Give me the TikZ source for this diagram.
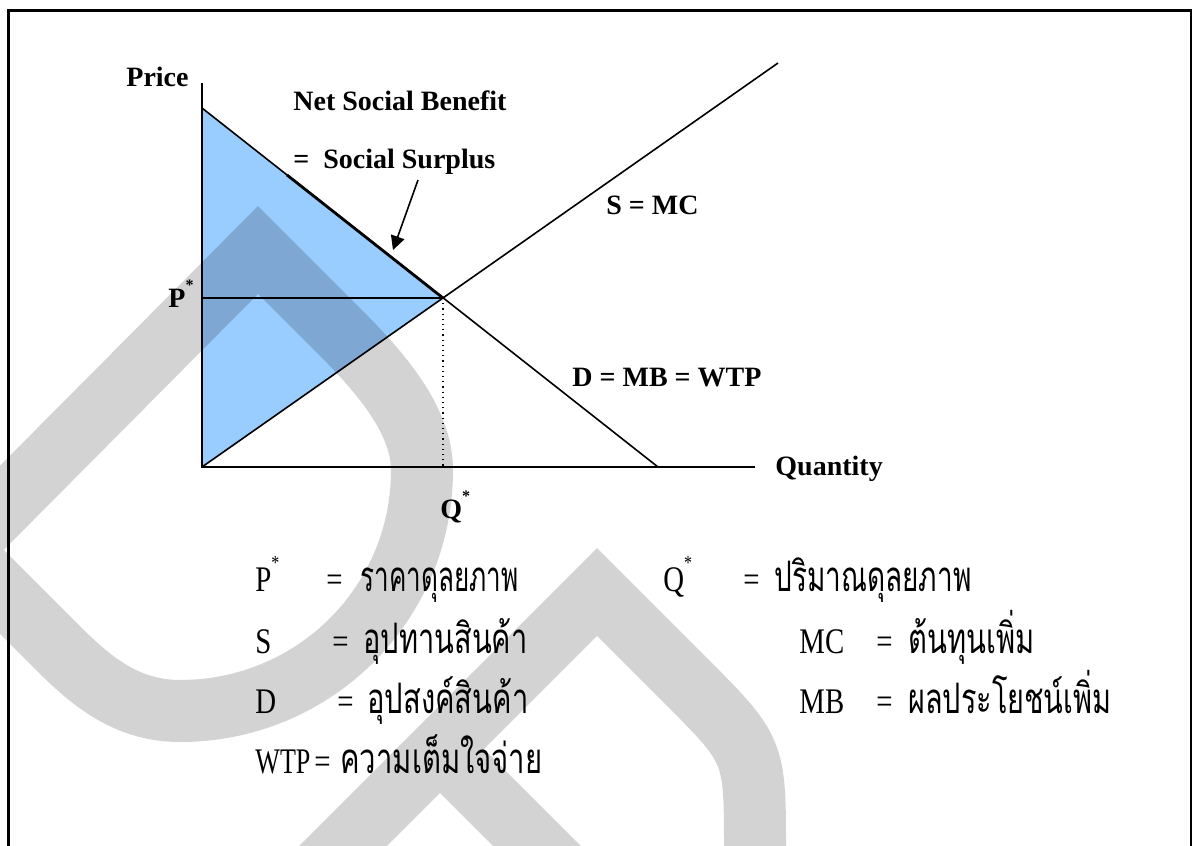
\documentclass[tikz,border=0pt]{standalone}
\usepackage{fontspec}
\setmainfont{Liberation Serif}
\newfontfamily\thaifont[Script=Thai]{Loma}
\usetikzlibrary{arrows.meta}
\definecolor{bluefill}{HTML}{99CCFF}
\definecolor{wmgray}{HTML}{D3D3D3}
\newcommand\thw[2]{\resizebox{#1}{\height}{\thaifont\fontsize{21}{25}\selectfont #2}}
\newcommand\lgt[1]{\scalebox{0.8}[1]{\fontsize{18}{21}\selectfont #1}}
\newcommand\stsup{\raisebox{0.6em}{\fontsize{8}{8}\selectfont *}}
\newcommand\lgsup{\raisebox{0.6em}{\fontsize{10}{10}\selectfont *}}
\begin{document}
\begin{tikzpicture}[x=0.5pt,y=-0.5pt,
  lbl/.style={font=\fontsize{14}{17}\selectfont\bfseries, inner sep=0, anchor=base west},
  lg/.style={inner sep=0, anchor=base west},
  wm/.style={draw=wmgray, line width=31pt, line join=miter, blend mode=multiply},
  curve/.style={line width=0.8pt},
  axis/.style={line width=1pt}]
\useasboundingbox (0,0) rectangle (1200,846);
\fill[white] (0,0) rectangle (1200,846);
% key points
\coordinate (O) at (202,467);
\coordinate (Ytop) at (202,83);
\coordinate (Xend) at (755,467);
\coordinate (Dtop) at (202,108);
\coordinate (Dmid) at (287,175);
\coordinate (Dend) at (658,467);
\coordinate (Send) at (778,63);
\coordinate (E) at (443,298);
\coordinate (Pax) at (202,298);
\coordinate (Qax) at (443,467);
\coordinate (a1) at (418,180);
\coordinate (a2) at (393,250);
\begin{scope}
\clip (0,0) rectangle (1200,846);
\fill[bluefill] (Dtop) -- (E) -- (O) -- cycle;
\draw[wm] (-40,550) -- (258,250) -- (340,332) .. controls (380,372) and (422,420) .. (422,470)
    .. controls (422,604) and (314,711) .. (180,711) .. controls (130,711) and (95,685) .. (60,650) -- cycle
  (300,889) -- (597,592) -- (684,679) .. controls (755,750) .. (755,850) -- (755,900)
  (440,749) -- (600,909);
\end{scope}
% frame
\draw[line width=1.2pt] (8.5,846) -- (8.5,10.5) -- (1191,10.5) -- (1191,846);
% graph
\draw[axis] (Ytop) -- (O) -- (Xend);
\draw[curve] (Dtop) -- (Dend);
\draw[line width=1.4pt] (Dmid) -- (E);
\draw[curve] (O) -- (Send);
\draw[curve] (Pax) -- (E);
\draw[dotted, line width=0.6pt] (E) -- (Qax);
\draw[-{Triangle[length=7pt,width=7pt]}, line width=0.8pt] (a1) -- (a2);
% graph labels
\node[lbl] (price) at (126,86) {Price};
\node[lbl] (nsb) at (293,110) {Net Social Benefit};
\node[lbl] (ss) at (293,168) {=~~Social Surplus};
\node[lbl] (smc) at (606,214) {S = MC};
\node[lbl] (dmb) at (572,386) {D = MB = WTP};
\node[lbl] (qty) at (775,475) {Quantity};
\node[lbl] (pst) at (168,307) {P\stsup};
\node[lbl] (qst) at (440,518) {Q\stsup};
% legend
\node[lg] (l1a) at (255,591) {\lgt{P\lgsup}};
\node[lg] (l1b) at (326,591) {\lgt{=}};
\node[lg] (l1c) at (360,591) {\thw{79pt}{ราคาดุลยภาพ}};
\node[lg] (r1a) at (663,591) {\lgt{Q\lgsup}};
\node[lg] (r1b) at (743,591) {\lgt{=}};
\node[lg] (r1c) at (774,591) {\thw{98.5pt}{ปริมาณดุลยภาพ}};
\node[lg] (l2a) at (255,653) {\lgt{S}};
\node[lg] (l2b) at (332,653) {\lgt{=}};
\node[lg] (l2c) at (363,653) {\thw{82pt}{อุปทานสินค้า}};
\node[lg] (r2a) at (799,653) {\lgt{MC}};
\node[lg] (r2b) at (876,653) {\lgt{=}};
\node[lg] (r2c) at (908,653) {\thw{63pt}{ต้นทุนเพิ่ม}};
\node[lg] (l3a) at (255,713) {\lgt{D}};
\node[lg] (l3b) at (337,713) {\lgt{=}};
\node[lg] (l3c) at (367,713) {\thw{80.5pt}{อุปสงค์สินค้า}};
\node[lg] (r3a) at (799,713) {\lgt{MB}};
\node[lg] (r3b) at (876,713) {\lgt{=}};
\node[lg] (r3c) at (908,713) {\thw{101.5pt}{ผลประโยชน์เพิ่ม}};
\node[lg] (l4a) at (255,773) {\resizebox{27.5pt}{\height}{\fontsize{18}{21}\selectfont WTP}};
\node[lg] (l4b) at (314,773) {\lgt{=}};
\node[lg] (l4c) at (340,773) {\thw{101pt}{ความเต็มใจจ่าย}};
\end{tikzpicture}
\end{document}
